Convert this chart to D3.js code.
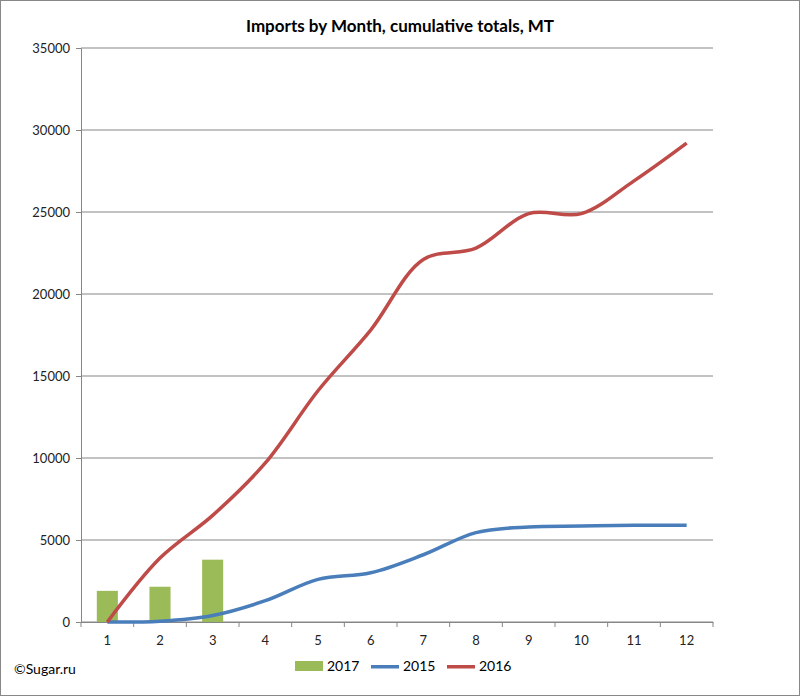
<!DOCTYPE html>
<html><head><meta charset="utf-8">
<script src="https://cdn.jsdelivr.net/npm/d3@7"></script>
<style>body{margin:0;background:#fff}text{font-family:Lato,"Open Sans",sans-serif}</style>
</head><body><svg id="c" width="800" height="696"></svg>
<script>
var months = [1,2,3,4,5,6,7,8,9,10,11,12];
var s2017 = [1900,2150,3800];
var s2015 = [0,50,400,1300,2600,3000,4100,5450,5800,5850,5900,5900];
var s2016 = [0,3900,6500,9700,14100,17800,22100,22800,24900,24900,26900,29200];
var yTicks = [0,5000,10000,15000,20000,25000,30000,35000];

var svg = d3.select("#c");
svg.append("rect").attr("x",0.5).attr("y",0.5).attr("width",799).attr("height",695)
    .attr("fill","#fff").attr("stroke","#888");

var L = 81, R = 713, T = 48, B = 622;
var x = d3.scaleBand().domain(months).range([L,R]);
var y = d3.scaleLinear().domain([0,35000]).range([B,T]);

svg.append("g").selectAll("line").data(yTicks).enter().append("line")
    .attr("x1",L).attr("x2",R).attr("y1",function(d){return y(d);}).attr("y2",function(d){return y(d);})
    .attr("stroke","#868686");

var yAxis = svg.append("g").attr("transform","translate("+L+",0)")
    .call(d3.axisLeft(y).tickValues(yTicks).tickSize(5).tickPadding(6).tickFormat(d3.format("d")));
yAxis.select(".domain").attr("stroke","#868686");
yAxis.selectAll("line").attr("stroke","#868686");
yAxis.selectAll("text").attr("font-size",13).attr("fill","#222");

var xAxis = svg.append("g").attr("transform","translate(0,"+B+")")
    .call(d3.axisBottom(x).tickSize(0).tickPadding(14));
xAxis.select(".domain").attr("stroke","#868686");
xAxis.selectAll("text").attr("font-size",13).attr("fill","#222");
svg.append("g").selectAll("line").data(d3.range(13)).enter().append("line")
    .attr("x1",function(i){return L+i*x.step();}).attr("x2",function(i){return L+i*x.step();})
    .attr("y1",B).attr("y2",B+5).attr("stroke","#868686");

var bw = x.bandwidth()*0.4;
svg.append("g").selectAll("rect").data(s2017).enter().append("rect")
    .attr("x",function(d,i){return x(months[i])+x.bandwidth()/2-bw/2;})
    .attr("width",bw).attr("y",function(d){return y(d);})
    .attr("height",function(d){return B-y(d);}).attr("fill","#9bbb59");

var line = d3.line().x(function(d,i){return x(months[i])+x.bandwidth()/2;})
    .y(function(d){return y(d);}).curve(d3.curveCatmullRom.alpha(0.5));
svg.append("path").datum(s2015).attr("d",line).attr("fill","none").attr("stroke","#4a7ebb").attr("stroke-width",3.5);
svg.append("path").datum(s2016).attr("d",line).attr("fill","none").attr("stroke","#be4b48").attr("stroke-width",3.5);

svg.append("text").attr("x",400).attr("y",32).attr("text-anchor","middle")
    .attr("font-size",17).attr("font-weight","bold").text("Imports by Month, cumulative totals, MT");
svg.append("text").attr("x",14).attr("y",674).attr("font-size",14).text("©Sugar.ru");

var leg = [{n:"2017",c:"#9bbb59",bar:true},{n:"2015",c:"#4a7ebb"},{n:"2016",c:"#be4b48"}];
var lg = svg.append("g").selectAll("g").data(leg).enter().append("g")
    .attr("transform",function(d,i){return "translate("+(295+i*76)+",671)";});
lg.append("rect").attr("x",0).attr("y",function(d){return d.bar?-10:-6;})
    .attr("width",28).attr("height",function(d){return d.bar?10:3.5;}).attr("fill",function(d){return d.c;});
lg.append("text").attr("x",32).attr("y",0).attr("font-size",14).text(function(d){return d.n;});
</script></body></html>
